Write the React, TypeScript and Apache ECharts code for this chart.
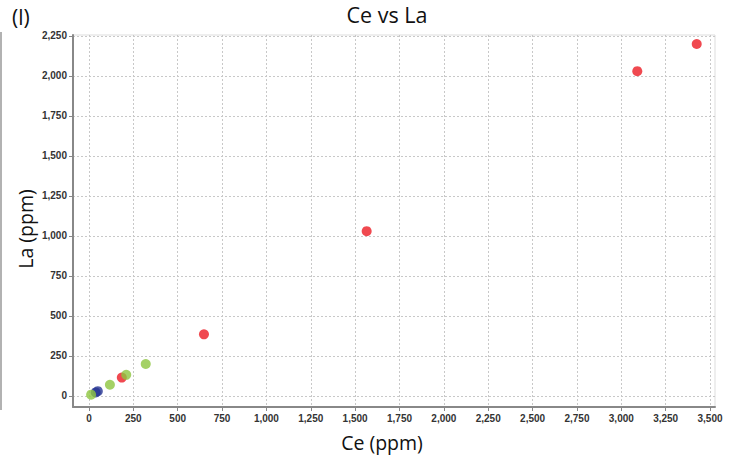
import React, { useEffect, useRef } from "react";
import * as echarts from "echarts";

// Ce (x) vs La (y) concentrations, ppm, grouped by sample type
const redPoints: [number, number][] = [
  [3425, 2200],
  [3090, 2030],
  [1565, 1030],
  [648, 385],
  [185, 115],
];
const greenPoints: [number, number][] = [
  [320, 200],
  [210, 132],
  [118, 70],
  [12, 8],
];
const bluePoints: [number, number][] = [
  [38, 22],
  [50, 30],
];

const xTicks = [0, 250, 500, 750, 1000, 1250, 1500, 1750, 2000, 2250, 2500, 2750, 3000, 3250, 3500];
const yTicks = [0, 250, 500, 750, 1000, 1250, 1500, 1750, 2000, 2250];

const fmt = (v: number) => v.toLocaleString("en-US");

export default function App() {
  const ref = useRef<HTMLDivElement>(null);

  useEffect(() => {
    if (!ref.current) return;
    const chart = echarts.init(ref.current, undefined, { renderer: "svg" });
    const labelStyle = {
      color: "#333",
      fontSize: 10,
      fontFamily: "Liberation Sans",
      fontWeight: "bold" as const,
      formatter: (v: number) => fmt(v),
    };
    const splitLine = {
      show: true,
      lineStyle: { color: "#c8c8c8", type: [2, 2] as number[], width: 1 },
    };
    const textFont = { fontFamily: "Open Sans", fill: "#111" };
    chart.setOption({
      animation: false,
      backgroundColor: "#fff",
      graphic: [
        {
          type: "text",
          x: 387,
          y: 3,
          style: { ...textFont, text: "Ce vs La", fontSize: 21.5, textAlign: "center", textVerticalAlign: "top" },
        },
        {
          type: "text",
          x: 12,
          y: 6,
          style: { ...textFont, text: "(l)", fontSize: 21, textVerticalAlign: "top" },
        },
        {
          type: "text",
          x: 382,
          y: 432,
          style: { ...textFont, text: "Ce (ppm)", fontSize: 19.5, textAlign: "center", textVerticalAlign: "top" },
        },
        {
          type: "text",
          x: 25,
          y: 229,
          rotation: Math.PI / 2,
          style: {
            ...textFont,
            text: "La (ppm)",
            fontSize: 19.5,
            textAlign: "center",
            textVerticalAlign: "middle",
          },
        },
        {
          type: "line",
          shape: { x1: 1, y1: 32, x2: 1, y2: 410 },
          style: { stroke: "#999", lineWidth: 1.5 },
        },
      ],
      grid: {
        left: 73,
        right: 14,
        top: 35,
        bottom: 54,
        show: true,
        borderColor: "#ddd",
        borderWidth: 1,
      },
      xAxis: {
        type: "value",
        min: -90,
        max: 3528,
        axisLine: { show: true, onZero: false, lineStyle: { color: "#888", width: 2 } },
        axisTick: {
          show: true,
          length: 4,
          customValues: xTicks,
          lineStyle: { color: "#888" },
        },
        axisLabel: { ...labelStyle, customValues: xTicks, margin: 6 },
        splitLine,
      },
      yAxis: {
        type: "value",
        min: -69,
        max: 2256,
        axisLine: { show: true, onZero: false, lineStyle: { color: "#888", width: 2 } },
        axisTick: {
          show: true,
          length: 4,
          customValues: yTicks,
          lineStyle: { color: "#888" },
        },
        axisLabel: { ...labelStyle, customValues: yTicks, margin: 6 },
        splitLine,
      },
      series: [
        {
          type: "scatter",
          data: bluePoints,
          symbolSize: 10,
          itemStyle: { color: "#263592" },
        },
        {
          type: "scatter",
          data: redPoints,
          symbolSize: 10,
          itemStyle: { color: "#ec1c24" },
        },
        {
          type: "scatter",
          data: greenPoints,
          symbolSize: 10,
          itemStyle: { color: "#8dc63f" },
        },
      ],
    });
    return () => chart.dispose();
  }, []);

  return <div ref={ref} style={{ width: 729, height: 461, position: "absolute", left: 0, top: 0 }} />;
}
